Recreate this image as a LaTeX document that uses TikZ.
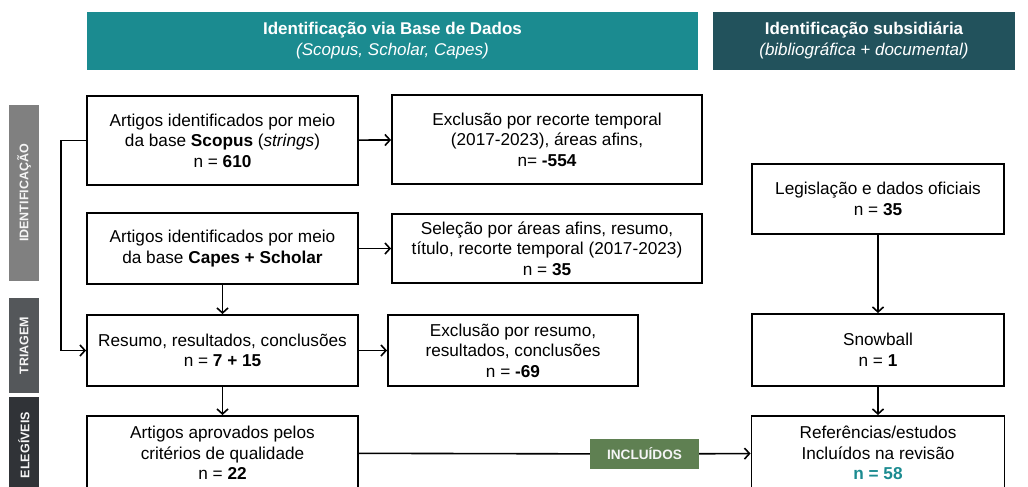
\documentclass[tikz,border=0pt]{standalone}
\usepackage{fontspec}
\setmainfont{Liberation Sans}
\usetikzlibrary{arrows.meta}

\definecolor{headteal}{RGB}{27,139,144}
\definecolor{headdark}{RGB}{34,82,92}
\definecolor{barlight}{RGB}{128,128,128}
\definecolor{barmid}{RGB}{84,87,90}
\definecolor{bardark}{RGB}{48,51,55}
\definecolor{incgreen}{RGB}{95,128,82}

\tikzset{
	stage/.style={draw=black, line width=1.9pt, fill=white, align=center, inner sep=0pt,
		font=\fontsize{17.2}{20.5}\selectfont},
	header/.style={inner sep=0pt, align=center, text=white, minimum height=58pt,
		font=\fontsize{17}{21}\selectfont},
	phase/.style={inner sep=0pt, minimum height=30pt, rotate=90, text=black!4,
		font=\fontsize{12.5}{14}\selectfont\bfseries},
	flow/.style={line width=1.6pt, -{Straight Barb[length=5pt,width=11pt]}},
}

\begin{document}
\begin{tikzpicture}[x=1pt,y=-1pt]
		\useasboundingbox (0,0) rectangle (1028,487);

		% column headers
		\node[header, fill=headteal, minimum width=611pt] (hdb) at (392.5,41)
			{\bfseries Identificação via Base de Dados\\ \itshape (Scopus, Scholar, Capes)};
		\node[header, fill=headdark, minimum width=302pt] (hsub) at (864,41)
			{\bfseries Identificação subsidiária\\ \itshape (bibliográfica + documental)};

		% phases
		\node[phase, fill=barlight, minimum width=176pt] (pid) at (24,193) {IDENTIFICAÇÃO};
		\node[phase, fill=barmid, minimum width=95pt] (ptri) at (24,345.5) {TRIAGEM};
		\node[phase, fill=bardark, minimum width=96pt] (pele) at (24,445) {ELEGÍVEIS};

		% database column
		\node[stage, minimum width=271pt, minimum height=89pt] (scopus) at (222.5,140.5)
			{Artigos identificados por meio\\ da base \textbf{Scopus} (\textit{strings})\\ n = \textbf{610}};
		\node[stage, minimum width=271pt, minimum height=71pt] (capes) at (222.5,248.5)
			{Artigos identificados por meio\\ da base \textbf{Capes + Scholar}};
		\node[stage, minimum width=271pt, minimum height=71pt] (resumo) at (222.5,350.5)
			{Resumo, resultados, conclusões\\ n = \textbf{7 + 15}};
		\node[stage, minimum width=271pt, minimum height=74pt] (aprov) at (222.5,453)
			{Artigos aprovados pelos\\ critérios de qualidade\\ n = \textbf{22}};

		% exclusions
		\node[stage, minimum width=310pt, minimum height=89pt] (excl) at (547,139.5)
			{Exclusão por recorte temporal\\ (2017-2023), áreas afins,\\ n= \textbf{-554}};
		\node[stage, minimum width=310pt, minimum height=69pt] (selec) at (547,248.5)
			{Seleção por áreas afins, resumo,\\ título, recorte temporal (2017-2023)\\ n = \textbf{35}};
		\node[stage, minimum width=250pt, minimum height=71pt] (exres) at (513,350.5)
			{Exclusão por resumo,\\ resultados, conclusões\\ n = \textbf{-69}};

		% subsidiary column
		\node[stage, minimum width=252pt, minimum height=70pt] (legis) at (878,199)
			{Legislação e dados oficiais\\ n = \textbf{35}};
		\node[stage, minimum width=252pt, minimum height=72pt] (snow) at (878,350)
			{Snowball\\ n = \textbf{1}};
		\node[stage, minimum width=253pt, minimum height=74pt] (refs) at (878,453)
			{Referências/estudos\\ Incluídos na revisão\\ \textcolor{headteal}{\textbf{n = 58}}};

		\node[fill=incgreen, text=black!4, minimum width=109pt, minimum height=30pt, inner sep=0pt,
			font=\fontsize{13.6}{15}\selectfont\bfseries] (incl) at (644.5,454) {INCLUÍDOS};

		\path[flow]
		(scopus) edge (excl)
		(capes) edge (selec)
		(resumo) edge (exres)
		(capes) edge (resumo)
		(resumo) edge (aprov)
		(legis) edge (snow)
		(snow) edge (refs)
		(incl) edge (refs);
		\draw[line width=1.6pt] (aprov) -- (incl);
		\draw[flow] (scopus.west) -- ++(-25,0) |- (resumo.west);
\end{tikzpicture}
\end{document}
